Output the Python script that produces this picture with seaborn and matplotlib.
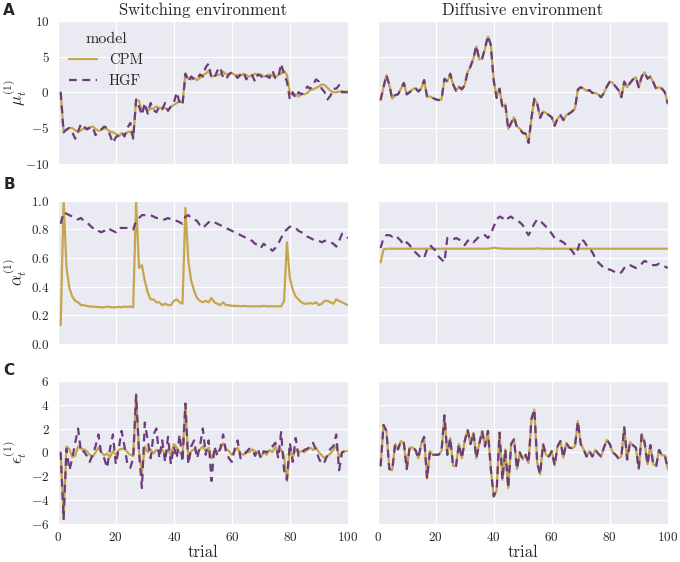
import numpy as np
import pandas as pd
import seaborn as sns
import matplotlib.pyplot as plt

trials = list(range(1, 101))

# row A: mu_t^(1)
mu_switch_cpm = [0.0, -5.6, -5.3, -5.0, -5.0, -5.3, -5.6, -5.3, -5.1, -5.0,
                 -4.9, -4.8, -5.1, -5.4, -5.3, -5.0, -5.2, -5.5, -5.6, -5.8,
                 -6.2, -5.7, -5.9, -5.6, -5.5, -6.3, -1.1, -1.2, -2.6, -2.0,
                 -2.6, -2.3, -2.3, -2.0, -2.2, -2.2, -2.2, -2.5, -2.0, -1.8,
                 -1.5, -1.2, -1.5, 2.6, 1.9, 1.8, 2.0, 1.7, 2.0, 2.4,
                 2.6, 3.0, 2.2, 2.3, 2.4, 2.5, 2.9, 2.5, 2.6, 2.7,
                 2.4, 2.4, 2.3, 2.6, 2.4, 2.2, 2.3, 2.6, 2.4, 2.5,
                 2.2, 2.3, 2.5, 2.3, 2.1, 2.4, 2.6, 3.0, 2.4, -0.1,
                 -0.4, -0.3, -0.6, -0.2, -0.3, -0.1, 0.3, 0.4, 0.6, 0.8,
                 1.1, 1.0, 0.6, 0.2, 0.0, 0.0, 0.1, 0.1, 0.1, 0.1]
mu_switch_hgf = [0.0, -5.6, -5.2, -5.0, -5.6, -6.5, -5.5, -4.4, -4.8, -5.2,
                 -5.0, -4.8, -6.0, -5.5, -5.2, -4.8, -5.0, -6.0, -7.1, -6.3,
                 -6.0, -5.6, -6.2, -5.0, -4.3, -6.5, -1.0, -2.0, -3.2, -1.5,
                 -3.0, -1.5, -2.5, -2.8, -2.0, -2.4, -1.5, -2.6, -2.0, -1.5,
                 0.0, -1.5, -1.8, 2.6, 1.5, 2.2, 1.8, 1.8, 2.5, 2.2,
                 3.5, 4.0, 2.0, 2.0, 3.0, 3.5, 2.0, 1.8, 2.5, 2.8,
                 2.5, 2.0, 2.5, 2.8, 1.8, 2.5, 2.4, 1.5, 2.5, 2.3,
                 1.8, 2.3, 2.0, 3.0, 2.0, 2.0, 4.0, 2.5, 1.5, -1.0,
                 0.0, -0.8, 0.0, -0.3, 0.0, 0.8, 0.5, 1.0, 1.8, 1.5,
                 0.5, 0.0, -1.0, -0.5, 0.5, 0.5, 1.0, 0.0, 0.0, 0.0]
mu_diff_cpm = [-1.1, 0.7, 2.4, 1.0, -0.9, -0.4, -0.3, 0.5, 1.3, -0.3,
               0.0, 0.4, 0.6, 0.1, 0.5, 1.7, -0.6, -0.6, -0.8, -1.0,
               -1.1, -1.0, 1.8, 1.5, 2.5, 1.1, 0.2, 0.8, 0.4, 1.0,
               2.8, 3.6, 4.7, 6.4, 4.6, 4.7, 6.1, 7.8, 6.6, 1.7,
               -0.7, 0.5, -2.0, -1.7, -5.1, -4.3, -3.5, -4.8, -5.1, -5.7,
               -5.8, -7.0, -3.7, -0.9, -1.6, -3.5, -2.7, -2.9, -3.2, -3.5,
               -4.6, -3.7, -3.2, -3.9, -3.2, -3.0, -2.7, -2.3, 0.3, 0.7,
               0.5, 0.2, 0.3, -0.1, -0.1, -0.3, -0.7, -0.1, 0.8, 1.5,
               1.3, 0.8, 0.3, -0.7, 1.4, 0.7, 1.3, 1.8, 2.1, 0.7,
               2.1, 2.8, 1.9, 2.2, 1.4, 0.5, 0.7, 0.5, 0.0, -1.6]
mu_diff_hgf = [-1.1, 0.7, 2.4, 1.0, -0.9, -0.4, -0.3, 0.5, 1.3, -0.3,
               0.0, 0.4, 0.6, 0.1, 0.5, 1.7, -0.6, -0.6, -0.8, -1.0,
               -1.1, -1.0, 1.9, 1.5, 2.6, 1.1, 0.2, 0.8, 0.4, 1.0,
               2.9, 3.6, 4.8, 6.5, 4.6, 4.7, 6.2, 7.9, 6.6, 1.6,
               -0.8, 0.5, -2.1, -1.7, -5.2, -4.3, -3.5, -4.9, -5.1, -5.7,
               -5.8, -7.1, -3.6, -0.9, -1.6, -3.6, -2.7, -2.9, -3.2, -3.5,
               -4.7, -3.7, -3.2, -3.9, -3.2, -3.0, -2.7, -2.3, 0.4, 0.7,
               0.5, 0.2, 0.3, -0.1, -0.1, -0.3, -0.7, -0.1, 0.8, 1.5,
               1.3, 0.8, 0.3, -0.7, 1.5, 0.7, 1.3, 1.8, 2.1, 0.7,
               2.2, 2.8, 1.9, 2.2, 1.4, 0.5, 0.7, 0.5, 0.0, -1.6]

# row B: alpha_t^(1)
alpha_switch_cpm = [0.13, 1.0, 0.53, 0.39, 0.33, 0.30, 0.29, 0.27, 0.27, 0.265,
                    0.26, 0.26, 0.258, 0.256, 0.255, 0.255, 0.26, 0.256, 0.255, 0.255,
                    0.258, 0.255, 0.26, 0.258, 0.26, 0.255, 1.0, 0.53, 0.55, 0.44,
                    0.36, 0.31, 0.31, 0.29, 0.29, 0.27, 0.28, 0.27, 0.27, 0.30,
                    0.31, 0.29, 0.28, 0.95, 0.58, 0.44, 0.37, 0.32, 0.30, 0.29,
                    0.30, 0.29, 0.32, 0.29, 0.28, 0.27, 0.29, 0.27, 0.27, 0.265,
                    0.265, 0.265, 0.262, 0.265, 0.262, 0.262, 0.262, 0.262, 0.262, 0.262,
                    0.265, 0.262, 0.262, 0.262, 0.262, 0.262, 0.262, 0.30, 0.71, 0.46,
                    0.38, 0.33, 0.31, 0.29, 0.28, 0.28, 0.285, 0.28, 0.29, 0.27,
                    0.28, 0.30, 0.30, 0.29, 0.28, 0.31, 0.30, 0.29, 0.28, 0.27]
alpha_switch_hgf = [0.84, 0.92, 0.91, 0.90, 0.89, 0.88, 0.87, 0.88, 0.86, 0.85,
                    0.83, 0.81, 0.81, 0.79, 0.78, 0.79, 0.81, 0.80, 0.79, 0.78,
                    0.81, 0.81, 0.81, 0.81, 0.81, 0.80, 0.86, 0.88, 0.90, 0.90,
                    0.90, 0.90, 0.89, 0.88, 0.88, 0.87, 0.87, 0.88, 0.87, 0.86,
                    0.86, 0.85, 0.84, 0.89, 0.90, 0.88, 0.87, 0.86, 0.83, 0.81,
                    0.83, 0.85, 0.86, 0.85, 0.84, 0.83, 0.82, 0.81, 0.80, 0.79,
                    0.78, 0.77, 0.76, 0.75, 0.74, 0.73, 0.72, 0.70, 0.69, 0.67,
                    0.70, 0.68, 0.67, 0.65, 0.67, 0.70, 0.74, 0.78, 0.80, 0.82,
                    0.81, 0.81, 0.79, 0.78, 0.77, 0.75, 0.74, 0.73, 0.72, 0.72,
                    0.71, 0.72, 0.72, 0.71, 0.70, 0.68, 0.72, 0.77, 0.75, 0.74]
alpha_diff_cpm = [0.57, 0.66, 0.665, 0.665, 0.665, 0.665, 0.665, 0.665, 0.665, 0.665,
                  0.665, 0.665, 0.665, 0.665, 0.665, 0.665, 0.665, 0.665, 0.665, 0.665,
                  0.665, 0.665, 0.665, 0.665, 0.665, 0.665, 0.665, 0.665, 0.665, 0.665,
                  0.665, 0.665, 0.665, 0.665, 0.665, 0.665, 0.665, 0.665, 0.668, 0.672,
                  0.670, 0.667, 0.666, 0.666, 0.665, 0.665, 0.665, 0.665, 0.665, 0.665,
                  0.665, 0.665, 0.665, 0.665, 0.668, 0.666, 0.665, 0.665, 0.665, 0.665,
                  0.665, 0.665, 0.665, 0.665, 0.665, 0.665, 0.665, 0.665, 0.665, 0.665,
                  0.665, 0.665, 0.665, 0.665, 0.665, 0.665, 0.665, 0.665, 0.665, 0.665,
                  0.665, 0.665, 0.665, 0.665, 0.665, 0.665, 0.665, 0.665, 0.665, 0.665,
                  0.665, 0.665, 0.665, 0.665, 0.665, 0.665, 0.665, 0.665, 0.665, 0.665]
alpha_diff_hgf = [0.67, 0.74, 0.76, 0.76, 0.75, 0.76, 0.74, 0.72, 0.69, 0.71,
                  0.69, 0.66, 0.64, 0.62, 0.60, 0.60, 0.66, 0.69, 0.67, 0.65,
                  0.61, 0.59, 0.57, 0.74, 0.74, 0.73, 0.74, 0.73, 0.71, 0.69,
                  0.72, 0.73, 0.71, 0.73, 0.75, 0.76, 0.76, 0.74, 0.77, 0.82,
                  0.87, 0.89, 0.88, 0.86, 0.88, 0.89, 0.87, 0.86, 0.85, 0.83,
                  0.79, 0.76, 0.80, 0.84, 0.87, 0.86, 0.84, 0.82, 0.80, 0.77,
                  0.74, 0.73, 0.72, 0.71, 0.69, 0.67, 0.65, 0.62, 0.66, 0.73,
                  0.72, 0.69, 0.67, 0.64, 0.60, 0.57, 0.55, 0.53, 0.52, 0.52,
                  0.51, 0.50, 0.49, 0.50, 0.53, 0.55, 0.55, 0.54, 0.53, 0.55,
                  0.56, 0.58, 0.57, 0.56, 0.55, 0.55, 0.56, 0.55, 0.54, 0.53]

# row C: epsilon_t^(1)
eps_switch_cpm = [0.0, -5.6, 0.5, 0.25, -0.4, -0.3, 0.5, 0.3, 0.25, 0.1,
                  -0.2, -0.4, 0.0, 0.4, 0.0, -0.25, -0.1, -0.4, 0.1, -0.2,
                  0.2, 0.3, 0.3, 0.0, -0.2, -0.3, 4.9, 0.1, -1.7, 0.5,
                  0.0, 0.25, -0.1, 0.2, 0.0, 0.25, -0.2, 0.25, -0.25, 0.7,
                  0.4, 0.0, -0.2, 4.0, -0.7, 0.1, 0.25, -0.1, 0.25, 0.5,
                  0.1, 0.4, -0.5, 0.0, 0.0, 0.3, 0.75, 0.3, 0.1, -0.2,
                  0.1, 0.4, -0.1, -0.2, 0.1, 0.0, 0.25, 0.1, 0.0, -0.4,
                  0.0, -0.2, 0.2, 0.0, 0.5, 0.0, 0.25, -0.3, -2.4, 0.25,
                  -0.4, 0.25, 0.0, 0.1, 0.0, 0.2, 0.4, 0.2, 0.4, 0.0,
                  -0.25, -0.5, -0.3, -0.1, 0.2, 0.6, -0.4, 0.0, 0.1, 0.1]
eps_switch_hgf = [0.0, -5.6, 0.3, -1.5, -0.5, 0.8, 2.0, 0.0, 0.1, -0.3,
                  -0.8, -0.2, 0.5, 1.5, -0.2, -0.5, -1.3, 0.3, 1.5, -1.0,
                  0.3, 1.8, 0.5, -1.0, -1.3, -0.5, 4.8, 0.0, -3.0, 2.5,
                  1.0, -0.5, 1.5, 2.0, -0.5, 1.0, -0.8, 1.3, -1.0, 0.5,
                  -0.5, 1.5, -0.8, 4.1, -1.0, 0.5, 1.0, -0.5, 0.5, 2.0,
                  -0.2, 1.0, -2.4, 0.5, -0.3, 0.3, 1.5, 0.0, -0.5, -0.8,
                  0.3, 1.0, -0.5, -0.3, 0.0, 0.3, 0.3, -0.3, 0.3, -0.5,
                  0.1, 0.0, 0.3, 0.5, 0.8, -0.5, 1.7, -1.5, -2.3, 0.8,
                  -0.8, 1.2, -0.3, 0.0, 0.2, 0.3, 0.5, 0.8, 0.2, -0.5,
                  -1.0, -0.8, -0.2, 0.3, 0.5, 1.5, -1.5, 0.0, 0.1, 0.1]
eps_diff_cpm = [-1.15, 2.3, 1.8, -1.4, -1.5, 0.7, 0.25, 0.95, 0.8, -1.4,
                0.4, 0.4, 0.2, -0.5, 0.7, 1.3, -2.2, 0.1, -0.2, -0.2,
                -0.2, 0.1, 3.1, -0.2, 1.2, -1.15, -1.15, 0.7, -0.5, 0.95,
                1.9, 0.7, 1.65, -0.5, 0.7, 1.8, 0.5, 1.8, -1.4, -3.7,
                -3.2, 1.65, -2.3, 0.25, -3.0, 0.7, 1.1, -1.4, 0.0, -0.6,
                -0.2, -0.9, 2.8, 3.6, -0.9, -1.85, 0.7, -0.2, -0.35, 0.1,
                -1.1, 0.5, 0.95, -0.45, 0.8, 0.4, 0.35, 0.5, 2.6, 0.7,
                0.25, -0.35, 0.1, -0.35, 0.2, -0.1, -0.35, 0.4, 1.05, 0.7,
                0.0, -0.2, -0.5, -0.35, 2.1, -0.6, 0.85, 0.6, 0.4, -1.4,
                1.5, 0.85, -1.0, 0.6, -1.0, -1.15, 0.2, -0.25, -0.25, -1.4]
eps_diff_hgf = [-1.15, 2.3, 1.8, -1.4, -1.5, 0.7, 0.25, 0.95, 0.8, -1.4,
                0.4, 0.4, 0.2, -0.5, 0.7, 1.3, -2.2, 0.1, -0.2, -0.2,
                -0.2, 0.1, 3.1, -0.2, 1.2, -1.15, -1.15, 0.7, -0.5, 0.95,
                1.9, 0.7, 1.65, -0.5, 0.7, 1.8, 0.5, 1.8, -1.4, -3.7,
                -3.2, 1.65, -2.3, 0.25, -3.0, 0.7, 1.1, -1.4, 0.0, -0.6,
                -0.2, -0.9, 2.8, 3.6, -0.9, -1.85, 0.7, -0.2, -0.35, 0.1,
                -1.1, 0.5, 0.95, -0.45, 0.8, 0.4, 0.35, 0.5, 2.6, 0.7,
                0.25, -0.35, 0.1, -0.35, 0.2, -0.1, -0.35, 0.4, 1.05, 0.7,
                0.0, -0.2, -0.5, -0.35, 2.1, -0.6, 0.85, 0.6, 0.4, -1.4,
                1.5, 0.85, -1.0, 0.6, -1.0, -1.15, 0.2, -0.25, -0.25, -1.4]

envs = ['Switching environment', 'Diffusive environment']
ylabels = [r'$\mu_t^{(1)}$', r'$\alpha_t^{(1)}$', r'$\epsilon_t^{(1)}$']
panel_letters = ['A', 'B', 'C']
ylims = [(-10, 10), (0, 1), (-6, 6)]
yticks = [[-10, -5, 0, 5, 10], [0.0, 0.2, 0.4, 0.6, 0.8, 1.0], [-6, -4, -2, 0, 2, 4, 6]]

series = [
    [(mu_switch_cpm, mu_switch_hgf), (mu_diff_cpm, mu_diff_hgf)],
    [(alpha_switch_cpm, alpha_switch_hgf), (alpha_diff_cpm, alpha_diff_hgf)],
    [(eps_switch_cpm, eps_switch_hgf), (eps_diff_cpm, eps_diff_hgf)],
]

sns.set_style('darkgrid')
plt.rcParams['font.family'] = 'serif'
plt.rcParams['font.serif'] = ['cmr10']
plt.rcParams['mathtext.fontset'] = 'cm'
plt.rcParams['axes.formatter.use_mathtext'] = True
plt.rcParams['axes.unicode_minus'] = True

palette = {'CPM': '#c6a64c', 'HGF': '#6b3d7b'}
dashes = {'CPM': '', 'HGF': (3.5, 2.5)}

fig, axes = plt.subplots(3, 2, figsize=(6.8, 5.62), dpi=100, sharex=True, sharey='row')
fig.subplots_adjust(left=0.085, right=0.982, top=0.963, bottom=0.068, wspace=0.103, hspace=0.26)

for r in range(3):
    for c in range(2):
        ax = axes[r, c]
        cpm, hgf = series[r][c]
        df = pd.DataFrame({
            'trial': trials + trials,
            'value': cpm + hgf,
            'model': ['CPM'] * 100 + ['HGF'] * 100,
        })
        sns.lineplot(data=df, x='trial', y='value', hue='model', style='model',
                     palette=palette, dashes=dashes, linewidth=1.6, ax=ax,
                     legend=(r == 0 and c == 0))
        ax.set_xlim(0, 100)
        ax.set_ylim(*ylims[r])
        ax.set_yticks(yticks[r])
        ax.set_xticks([0, 20, 40, 60, 80, 100])
        ax.tick_params(axis='both', labelsize=9.5)
        ax.tick_params(axis='x', pad=2)
        ax.tick_params(axis='y', pad=2.5)
        ax.set_xlabel('trial' if r == 2 else '', fontsize=12, labelpad=0)
        ax.set_ylabel(ylabels[r] if c == 0 else '', fontsize=12)
        if c == 0:
            ax.yaxis.set_label_coords(-0.1, 0.5)
        if r == 0:
            ax.set_title(envs[c], fontsize=12, pad=4)
    if r == 1:
        axes[r, 0].yaxis.set_major_formatter(plt.FormatStrFormatter('$%.1f$'))
    fig.text(0.005, [0.995, 0.685, 0.354][r], panel_letters[r], fontsize=11,
             fontweight='bold', family='DejaVu Sans', va='top', ha='left')

leg = axes[0, 0].legend(loc='upper left', frameon=False, title='model',
                        fontsize=10.5, title_fontsize=11.5, handlelength=1.9,
                        borderaxespad=0.4)

plt.savefig('out.png', dpi=100)
